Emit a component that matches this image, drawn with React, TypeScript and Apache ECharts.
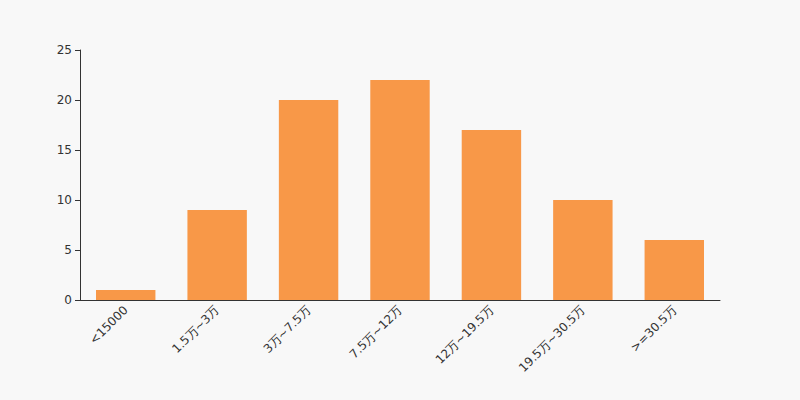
import React, { useEffect, useRef } from "react";
import * as echarts from "echarts";

const categories = ["<15000", "1.5万~3万", "3万~7.5万", "7.5万~12万", "12万~19.5万", "19.5万~30.5万", ">=30.5万"];
const values = [1, 9, 20, 22, 17, 10, 6];

export default function App() {
  const ref = useRef<HTMLDivElement>(null);
  useEffect(() => {
    const chart = echarts.init(ref.current!, null, { renderer: "svg" });
    chart.setOption({
      animation: false,
      backgroundColor: "#f8f8f8",
      textStyle: { fontFamily: "DejaVu Sans" },
      grid: { left: 80, right: 80, top: 50, bottom: 100 },
      xAxis: {
        type: "category",
        data: categories,
        axisLine: { lineStyle: { color: "#333" } },
        axisTick: { lineStyle: { color: "#333" } },
        axisLabel: { rotate: 45, color: "#333", fontSize: 12, interval: 0 },
      },
      yAxis: {
        type: "value",
        min: 0,
        max: 25,
        interval: 5,
        axisLine: { show: true, lineStyle: { color: "#333" } },
        axisTick: { show: true, lineStyle: { color: "#333" } },
        axisLabel: { color: "#333", fontSize: 12 },
        splitLine: { show: false },
      },
      series: [
        {
          type: "bar",
          data: values,
          barWidth: "65%",
          itemStyle: { color: "#f89848" },
        },
      ],
    });
    return () => chart.dispose();
  }, []);
  return <div ref={ref} style={{ width: 800, height: 400, position: "absolute", left: 0, top: 0 }} />;
}
